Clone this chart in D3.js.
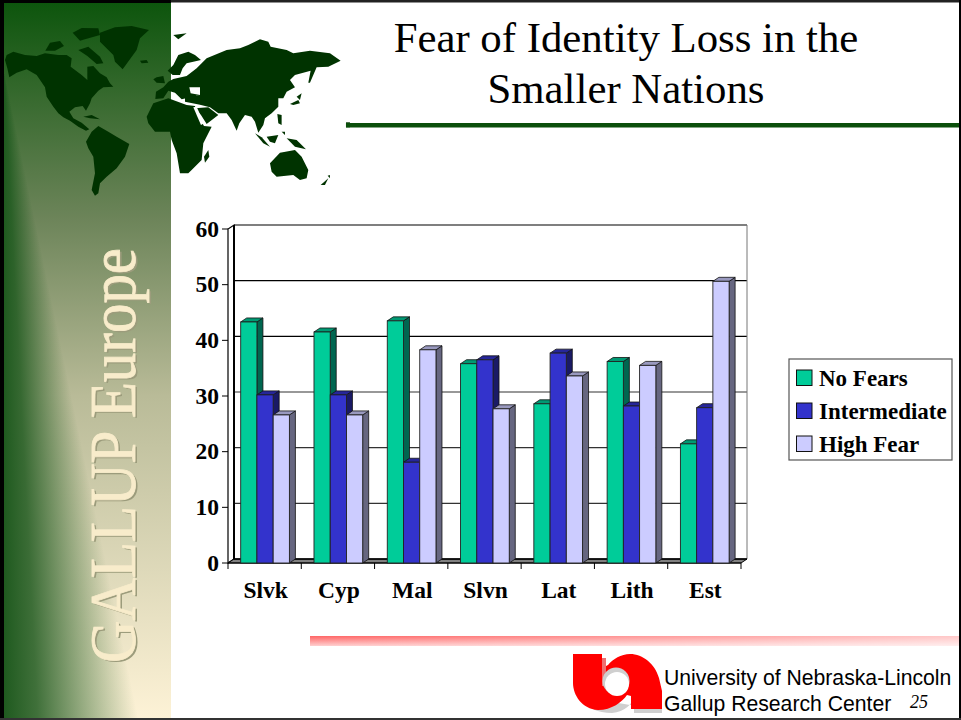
<!DOCTYPE html>
<html><head><meta charset="utf-8">
<script src="https://cdn.jsdelivr.net/npm/d3@7/dist/d3.min.js"></script>
<style>html,body{margin:0;padding:0;background:#fff}svg{display:block}</style></head>
<body><div id="c"></div>
<script>
const categories = ["Slvk","Cyp","Mal","Slvn","Lat","Lith","Est"];
const seriesNames = ["No Fears","Intermediate","High Fear"];
const noFears = [43.3,41.5,43.5,35.8,28.6,36.2,21.4];
const intermediate = [30.2,30.2,18.1,36.5,37.7,28.2,27.9];
const highFear = [26.6,26.6,38.3,27.7,33.6,35.5,50.6];
const yTicks = [0,10,20,30,40,50,60];
const frontColors = ["#00cc99","#3333cc","#ccccff"];
const topColors = ["#009973","#262699","#9999bf"];
const sideColors = ["#006650","#1a1a66","#666680"];

const serif = "'Liberation Serif','Times New Roman',serif";
const sans = "'Liberation Sans',Arial,sans-serif";
const svg = d3.select("#c").append("svg").attr("width",961).attr("height",720);
const defs = svg.append("defs");

// ---------- slide background ----------
const vg = defs.append("linearGradient").attr("id","panel").attr("x1",0).attr("y1",0).attr("x2",0).attr("y2",1);
[[0,"#0d550d"],[0.3,"#6c8459"],[0.55,"#b9bb98"],[1,"#fdf2d6"]].forEach(s=>vg.append("stop").attr("offset",s[0]).attr("stop-color",s[1]));
const hg = defs.append("linearGradient").attr("id","edge");
hg.append("stop").attr("offset",0).attr("stop-color","#1f5a1f").attr("stop-opacity",1);
hg.append("stop").attr("offset",0.25).attr("stop-color","#1f5a1f").attr("stop-opacity",0.85);
hg.append("stop").attr("offset",1).attr("stop-color","#1f5a1f").attr("stop-opacity",0);
const rg = defs.append("linearGradient").attr("id","stripe").attr("x1",0).attr("y1",0).attr("x2",0).attr("y2",1);
[[0,"#ff6464"],[1,"#ffd0d0"]].forEach(s=>rg.append("stop").attr("offset",s[0]).attr("stop-color",s[1]));
const rh = defs.append("linearGradient").attr("id","stripeFade");
rh.append("stop").attr("offset",0).attr("stop-color","#fff").attr("stop-opacity",0);
rh.append("stop").attr("offset",1).attr("stop-color","#fff").attr("stop-opacity",0.65);

svg.append("rect").attr("width",961).attr("height",720).attr("fill","#fff");
svg.append("rect").attr("x",0).attr("y",3).attr("width",171).attr("height",715).attr("fill","url(#panel)");
const edgeWidth = d3.scaleLinear().domain([70,720]).range([0,135]);
svg.append("g").selectAll("rect").data(d3.range(70,718,2)).join("rect")
  .attr("x",4).attr("y",d=>d).attr("height",2).attr("width",d=>edgeWidth(d)).attr("fill","url(#edge)");

// ---------- world map (decoration) ----------
const land = [
 [[15,180],[20,165],[40,155],[75,165],[110,168],[135,160],[175,165],[200,165],[215,175],[212,200],[245,225],[262,240],[262,200],[280,198],[300,220],[320,232],[330,250],[340,260],[310,262],[295,272],[275,295],[270,310],[258,332],[248,318],[225,322],[208,335],[220,355],[245,368],[268,388],[258,392],[235,380],[210,362],[190,352],[175,340],[160,320],[140,290],[135,262],[110,225],[80,208],[50,218],[28,232],[22,205]],
 [[136,152],[150,128],[180,123],[192,138],[165,152]],
 [[235,150],[265,140],[300,170],[310,190],[290,192],[262,168]],
 [[218,98],[245,84],[295,85],[300,105],[255,118],[240,122]],
 [[300,98],[345,82],[395,78],[447,90],[420,115],[410,150],[368,208],[345,185],[340,165],[300,125]],
 [[420,182],[440,180],[445,188],[425,190]],
 [[258,425],[275,395],[295,378],[325,395],[350,410],[388,432],[375,470],[350,505],[320,530],[300,550],[295,580],[285,587],[275,570],[285,520],[280,470],[265,445]],
 [[250,350],[275,345],[300,358],[270,355]],
 [[460,238],[470,232],[490,228],[495,250],[470,248]],
 [[440,350],[460,310],[505,295],[560,315],[585,318],[590,340],[612,378],[635,380],[610,430],[605,480],[575,510],[565,520],[540,520],[530,460],[515,420],[510,395],[465,395],[445,370]],
 [[625,450],[628,470],[615,488],[612,470]],
 [[503,212],[520,195],[535,165],[565,155],[585,165],[603,180],[580,185],[560,190],[548,205],[540,225],[518,225]],
 [[466,297],[468,275],[490,262],[505,245],[520,237],[560,228],[590,205],[605,190],[620,175],[680,150],[720,145],[745,135],[780,118],[805,125],[812,140],[860,150],[880,160],[930,152],[990,160],[1022,182],[985,200],[950,202],[930,248],[925,248],[932,212],[885,225],[870,240],[885,262],[860,275],[850,295],[835,295],[835,320],[815,340],[795,355],[790,375],[775,398],[765,365],[755,350],[735,345],[718,370],[710,392],[695,360],[680,340],[655,340],[630,322],[600,314],[555,305],[555,290],[590,288],[600,285],[545,298],[525,278],[505,272],[490,295]],
 [[585,325],[625,322],[655,345],[620,372],[603,345]],
 [[890,290],[905,280],[900,300]],
 [[870,312],[895,300],[900,310],[880,315]],
 [[832,342],[845,345],[845,375],[835,370]],
 [[765,400],[785,412],[810,440],[790,430]],
 [[800,410],[835,405],[825,430],[810,425]],
 [[860,415],[890,420],[918,448],[885,440]],
 [[810,490],[840,458],[885,450],[905,470],[925,510],[920,535],[900,540],[880,525],[830,530],[815,515]],
 [[962,555],[985,535],[975,555]],
 [[983,527],[990,525],[990,535]],
 [[1038,367],[1050,367],[1050,382],[1038,382]],
 [[520,105],[560,100],[535,118]],
 [[845,395],[855,395],[855,405]]
];
const gapShapes = [
 [[568,262],[600,262],[600,285],[572,280]],
 [[580,322],[590,320],[612,370],[603,375]]
];
const mapG = svg.append("g").attr("transform","scale(0.3333)");
const closed = d3.line().curve(d3.curveLinearClosed);
mapG.selectAll("path.land").data(land).join("path").attr("class","land").attr("d",closed).attr("fill","#003300");
mapG.selectAll("path.gap").data(gapShapes).join("path").attr("class","gap").attr("d",closed).attr("fill","#fff");

// ---------- side caption ----------
[["#9c9c7c",1.5,1.5,0],["#f8eccb",0,0,0.8]].forEach(t=>{
  svg.append("text").attr("transform",`translate(${135+t[1]},${663+t[2]}) rotate(-90)`)
    .attr("font-family",serif).attr("font-size",66).attr("fill",t[0]).attr("stroke",t[0]).attr("stroke-width",t[3])
    .attr("textLength",415).attr("lengthAdjust","spacingAndGlyphs").text("GALLUP Europe");
});

// ---------- title ----------
svg.append("text").attr("x",626).attr("y",52).attr("text-anchor","middle").attr("font-family",serif).attr("font-size",42.8).attr("fill","#000").text("Fear of Identity Loss in the");
svg.append("text").attr("x",626).attr("y",103).attr("text-anchor","middle").attr("font-family",serif).attr("font-size",42.8).attr("fill","#000").text("Smaller Nations");
svg.append("rect").attr("x",346).attr("y",123).attr("width",615).attr("height",4.5).attr("fill","#0b4f0b");

// ---------- chart ----------
const dx = 6, dy = 4;
const x0 = d3.scaleBand().domain(categories).range([228,741]);
const x1 = d3.scaleBand().domain(seriesNames).range([12.7,61.4]);
const y = d3.scaleLinear().domain([0,60]).range([563,229]);
const values = [noFears,intermediate,highFear];
const chart = svg.append("g");
const xL = x0.range()[0], xR = x0.range()[1];

chart.append("path").attr("d",closed([[xL,y(0)],[xL+dx,y(0)-dy],[xL+dx,y(60)-dy],[xL,y(60)]])).attr("fill","#fff").attr("stroke","#000").attr("stroke-width",1.2);
chart.append("path").attr("d",closed([[xL,y(0)],[xR,y(0)],[xR+dx,y(0)-dy],[xL+dx,y(0)-dy]])).attr("fill","#808080").attr("stroke","#000").attr("stroke-width",1);
chart.append("g").selectAll("line").data(yTicks.slice(1)).join("line")
  .attr("x1",xL+dx).attr("x2",xR+dx).attr("y1",d=>y(d)-dy).attr("y2",d=>y(d)-dy)
  .attr("stroke",d=>d>=40?"#000":"#333").attr("stroke-width",1.1);
chart.append("line").attr("x1",xL+dx).attr("x2",xL+dx).attr("y1",y(60)-dy).attr("y2",y(0)-dy).attr("stroke","#000").attr("stroke-width",2);
chart.append("line").attr("x1",xR+dx).attr("x2",xR+dx).attr("y1",y(60)-dy).attr("y2",y(0)-dy).attr("stroke","#777").attr("stroke-width",1);
chart.append("path").attr("d",`M${xL+dx},${y(0)-dy}H${xR+dx}`).attr("stroke","#000").attr("stroke-width",1.6);
chart.append("g").selectAll("line").data(yTicks).join("line")
  .attr("x1",xL-6).attr("x2",xL).attr("y1",d=>y(d)).attr("y2",d=>y(d)).attr("stroke","#000");
chart.append("line").attr("x1",xL).attr("x2",xR).attr("y1",y(0)).attr("y2",y(0)).attr("stroke","#000").attr("stroke-width",1.2);
chart.append("g").selectAll("line").data(d3.range(0,8)).join("line")
  .attr("x1",i=>xL+i*x0.step()).attr("x2",i=>xL+i*x0.step()).attr("y1",y(0)).attr("y2",y(0)+6).attr("stroke","#000");

categories.forEach((c,ci)=>{
  const g = chart.append("g");
  seriesNames.forEach((s,si)=>{
    const v = values[si][ci];
    const xa = x0(c)+x1(s), xb = xa+x1.bandwidth(), yt = y(v), yb = y(0);
    g.append("path").attr("d",closed([[xb,yt],[xb+dx,yt-dy],[xb+dx,yb-dy],[xb,yb]])).attr("fill",sideColors[si]).attr("stroke","#111").attr("stroke-width",0.8);
    g.append("path").attr("d",closed([[xa,yt],[xa+dx,yt-dy],[xb+dx,yt-dy],[xb,yt]])).attr("fill",topColors[si]).attr("stroke","#111").attr("stroke-width",0.8);
    g.append("rect").attr("x",xa).attr("y",yt).attr("width",x1.bandwidth()).attr("height",yb-yt).attr("fill",frontColors[si]).attr("stroke","#222").attr("stroke-width",0.9);
  });
});

const labelFont = t=>t.attr("font-family",serif).attr("font-weight","bold").attr("fill","#000");
chart.append("g").selectAll("text").data(yTicks).join("text").call(labelFont)
  .attr("x",219).attr("y",d=>y(d)+7.5).attr("text-anchor","end").attr("font-size",23.5).text(d=>d);
chart.append("g").selectAll("text").data(categories).join("text").call(labelFont)
  .attr("x",d=>x0(d)+x0.bandwidth()/2+1).attr("y",598).attr("text-anchor","middle").attr("font-size",23.5).text(d=>d);

// ---------- legend ----------
svg.append("rect").attr("x",789).attr("y",359).attr("width",163).attr("height",101).attr("fill","#fff").attr("stroke","#555").attr("stroke-width",1.2);
const legY = d3.scalePoint().domain(seriesNames).range([378,444]);
const leg = svg.append("g").selectAll("g").data(seriesNames).join("g");
leg.append("rect").attr("x",796.5).attr("y",d=>legY(d)-8).attr("width",15.5).attr("height",15.5)
  .attr("fill",(d,i)=>frontColors[i]).attr("stroke","#111").attr("stroke-width",1);
leg.append("text").call(labelFont).attr("x",819).attr("y",d=>legY(d)+7.5).attr("font-size",23).text(d=>d);

// ---------- footer ----------
svg.append("rect").attr("x",310).attr("y",636).attr("width",651).attr("height",10).attr("fill","url(#stripe)");
svg.append("rect").attr("x",310).attr("y",636).attr("width",651).attr("height",10).attr("fill","url(#stripeFade)");
svg.append("path").attr("d","M578,696 C585,708 598,713 612,713 C625,712 632,704 634,697 V713 H662 V705 H630 Z").attr("fill","#cfcfcf");
svg.append("path").attr("d","M573,654 H602 V668 L608,665 C613,659 621,654 630,654 C643,654 655,664 659,678 L662,691 V709 H631 V696 L627,695 C622,702 612,710 598,710 C582,709 573,695 573,683 Z").attr("fill","#ff0000");
svg.append("rect").attr("x",602).attr("y",658).attr("width",4).attr("height",28).attr("fill","#ee7070");
svg.append("circle").attr("cx",616).attr("cy",681).attr("r",13.5).attr("fill","#cfcfcf");
svg.append("circle").attr("cx",617).attr("cy",684).attr("r",12).attr("fill","#fff");
svg.append("text").attr("x",664).attr("y",685).attr("font-family",sans).attr("font-size",21.2).attr("fill","#000").text("University of Nebraska-Lincoln");
svg.append("text").attr("x",664).attr("y",711).attr("font-family",sans).attr("font-size",21.2).attr("fill","#000").text("Gallup Research Center");
svg.append("text").attr("x",910).attr("y",708).attr("font-family",serif).attr("font-style","italic").attr("font-size",18).attr("fill","#000").text("25");

// ---------- frame ----------
svg.append("rect").attr("x",0).attr("y",0).attr("width",4).attr("height",720).attr("fill","#000");
svg.append("rect").attr("x",0).attr("y",0).attr("width",171).attr("height",3).attr("fill","#000");
svg.append("rect").attr("x",171).attr("y",0).attr("width",790).attr("height",2.5).attr("fill","#222");
svg.append("rect").attr("x",959).attr("y",0).attr("width",2).attr("height",720).attr("fill","#000");
svg.append("rect").attr("x",0).attr("y",718).attr("width",961).attr("height",2).attr("fill","#333");
</script></body></html>
